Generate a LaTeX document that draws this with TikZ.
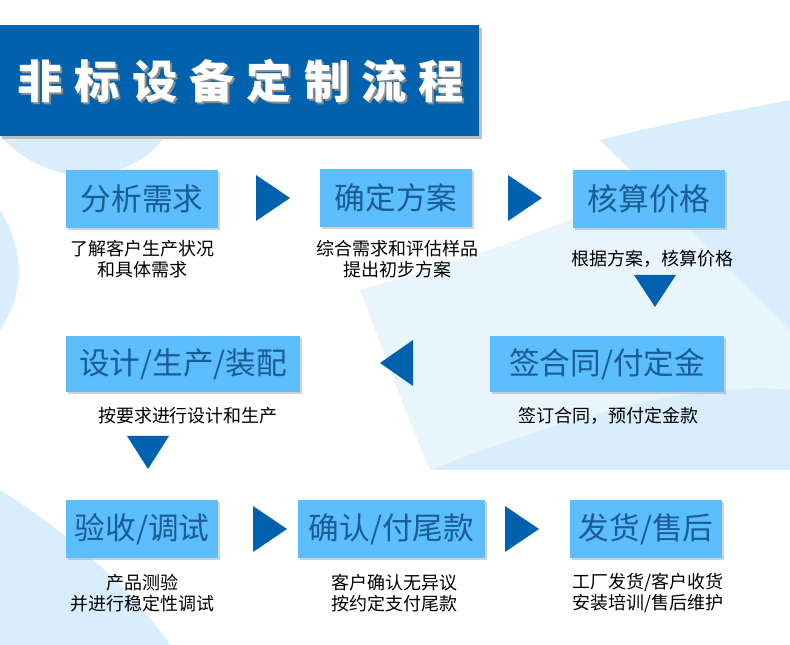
\documentclass[tikz,border=0pt]{standalone}
\usepackage{fontspec}
\setmainfont{Noto Sans CJK SC}
\usetikzlibrary{shadows}
\definecolor{dblue}{HTML}{0062AE}
\definecolor{lblue}{HTML}{5CBEFD}
\definecolor{tblue}{HTML}{1A5C96}
\definecolor{bgA}{HTML}{D8EEFC}
\definecolor{bgB}{HTML}{E8F5FD}
\begin{document}
\begin{tikzpicture}[x=0.75pt,y=-0.75pt,
 box/.style={fill=lblue,draw=none,text=tblue,font=\fontsize{23}{26}\selectfont,inner sep=0pt,anchor=north west,drop shadow={shadow xshift=1.5pt,shadow yshift=-1.5pt,fill=black!35,opacity=.5}},
 sub/.style={font=\fontsize{13.5}{16}\selectfont,align=center,text=black},
 tri/.style={fill=dblue,draw=none}]
\useasboundingbox (0,0) rectangle (790,645);
\fill[white] (0,0) rectangle (790,645);
% background swooshes
\fill[bgA] (0,136) .. controls (60,200) and (140,175) .. (165,136) -- cycle;
\fill[bgA] (0,210) .. controls (30,260) and (20,300) .. (0,330) -- cycle;
\fill[bgB] (360,290) .. controls (500,250) and (650,200) .. (790,100) -- (790,470) .. controls (650,470) and (480,470) .. (430,470) .. controls (400,400) and (380,340) .. (360,290) -- cycle;
\fill[bgA] (600,140) .. controls (680,120) and (740,110) .. (790,100) -- (790,330) .. controls (740,280) and (680,220) .. (600,140) -- cycle;
\fill[bgA] (430,470) .. controls (560,420) and (690,380) .. (790,390) -- (790,470) -- cycle;
\fill[bgA] (0,490) .. controls (80,540) and (140,600) .. (170,645) -- (0,645) -- cycle;
% title
\fill[black!25] (2,28) rectangle (482,139);
\fill[dblue] (0,25) rectangle (479,136);
\node[text=black!45,font=\fontsize{34}{36}\selectfont\bfseries] at (243,83) {非\hspace{9pt}标\hspace{9pt}设\hspace{9pt}备\hspace{9pt}定\hspace{9pt}制\hspace{9pt}流\hspace{9pt}程};
\node[text=white,font=\fontsize{34}{36}\selectfont\bfseries] (title) at (241,81) {非\hspace{9pt}标\hspace{9pt}设\hspace{9pt}备\hspace{9pt}定\hspace{9pt}制\hspace{9pt}流\hspace{9pt}程};
% row 1
\node[box,minimum width=114pt,minimum height=43.5pt] (b1) at (66,170) {分析需求};
\node[box,minimum width=114pt,minimum height=43.5pt] (b2) at (320,169) {确定方案};
\node[box,minimum width=114pt,minimum height=43.5pt] (b3) at (573,170) {核算价格};
\node[sub] (s1) at (142,259) {了解客户生产状况\\和具体需求};
\node[sub] (s2) at (397,259) {综合需求和评估样品\\提出初步方案};
\node[sub] (s3) at (652,259) {根据方案，核算价格};
\fill[tri] (256,175) -- (290,198) -- (256,221) -- cycle;
\fill[tri] (508,175) -- (542,198) -- (508,221) -- cycle;
\fill[tri] (634,275) -- (676,275) -- (655,307) -- cycle;
% row 2
\node[box,minimum width=175.5pt,minimum height=42pt] (b5) at (66,336) {设计/生产/装配};
\node[box,minimum width=175.5pt,minimum height=42pt] (b4) at (490,336) {签合同/付定金};
\node[sub] (s5) at (188,416) {按要求进行设计和生产};
\node[sub] (s4) at (608,416) {签订合同，预付定金款};
\fill[tri] (413,340) -- (380,363) -- (413,386) -- cycle;
\fill[tri] (127,436) -- (169,436) -- (148,469) -- cycle;
% row 3
\node[box,minimum width=114pt,minimum height=43pt] (b6) at (66,500) {验收/调试};
\node[box,minimum width=140pt,minimum height=43pt] (b7) at (298,500) {确认/付尾款};
\node[box,minimum width=114pt,minimum height=43pt] (b8) at (570,500) {发货/售后};
\node[sub] (s6) at (142,593) {产品测验\\并进行稳定性调试};
\node[sub] (s7) at (394,593) {客户确认无异议\\按约定支付尾款};
\node[sub] (s8) at (648,593) {工厂发货/客户收货\\安装培训/售后维护};
\fill[tri] (253,506) -- (287,529) -- (253,552) -- cycle;
\fill[tri] (505,506) -- (539,529) -- (505,552) -- cycle;
\end{tikzpicture}
\end{document}
